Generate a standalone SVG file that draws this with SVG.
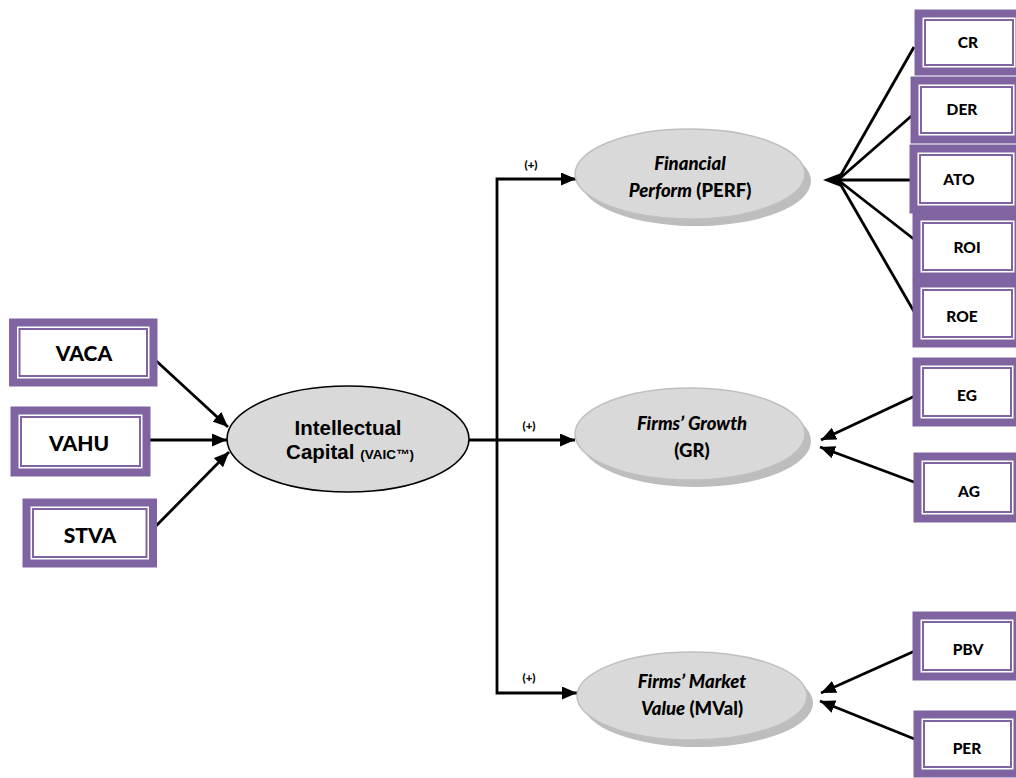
<svg xmlns="http://www.w3.org/2000/svg" width="1016" height="778" viewBox="0 0 1016 778">
<defs>
<marker id="ah" markerUnits="userSpaceOnUse" markerWidth="15" markerHeight="13" refX="15" refY="6.5" orient="auto-start-reverse" viewBox="0 0 15 13"><path d="M0,0 L15,6.5 L0,13 z" fill="#000"/></marker>
</defs>
<style>
.outer{fill:#8064a2}
.gap{fill:#fff}
.inner{fill:#fff;stroke:#8064a2;stroke-width:2}
.lbl{font-family:Lato,"Open Sans",sans-serif;font-weight:900;fill:#000;text-anchor:middle}
.big{font-size:21px}
.sm{font-size:15.5px}
.conn{stroke:#000;stroke-width:2.8;fill:none}
.ell{fill:#d9d9d9;stroke:#bfbfbf;stroke-width:1.5}
.shadow{fill:#bdbdbd}
.elt{font-family:Lato,"Open Sans",sans-serif;font-weight:900;font-size:18.5px;text-anchor:middle;fill:#000}
.it{font-style:italic}
.plus{font-family:Lato,"Open Sans",sans-serif;font-weight:900;font-size:11.5px;text-anchor:middle;fill:#000}
.ic{font-family:"Liberation Sans",Arial,sans-serif;font-weight:bold;font-size:20.5px;text-anchor:middle;fill:#000}
</style>
<rect width="1016" height="778" fill="#fff"/>

<g id="connectors">
<line class="conn" x1="152" y1="357" x2="228" y2="427" marker-end="url(#ah)"/>
<line class="conn" x1="148" y1="440" x2="227" y2="440" marker-end="url(#ah)"/>
<line class="conn" x1="154" y1="528" x2="229" y2="452" marker-end="url(#ah)"/>
<path class="conn" d="M576,179 H497 V693 H577" marker-start="url(#ah)" marker-end="url(#ah)"/>
<line class="conn" x1="469" y1="440" x2="575" y2="440" marker-end="url(#ah)"/>
<line class="conn" x1="914" y1="47" x2="838" y2="180"/>
<line class="conn" x1="916" y1="112" x2="838" y2="180"/>
<line class="conn" x1="915" y1="180" x2="838" y2="180"/>
<line class="conn" x1="915" y1="240" x2="838" y2="180"/>
<line class="conn" x1="916" y1="315" x2="838" y2="180"/>
<polygon points="823,180 840,173.5 840,186.5" fill="#000"/>
<line class="conn" x1="917" y1="395" x2="821" y2="440" marker-end="url(#ah)"/>
<line class="conn" x1="922" y1="485" x2="820" y2="447" marker-end="url(#ah)"/>
<line class="conn" x1="917" y1="650" x2="821" y2="693" marker-end="url(#ah)"/>
<line class="conn" x1="922" y1="742" x2="820" y2="701" marker-end="url(#ah)"/>
<text class="plus" x="531" y="169">(+)</text>
<text class="plus" x="529" y="430">(+)</text>
<text class="plus" x="529" y="682">(+)</text>
</g>

<g id="vaca"><rect class="outer" x="9" y="318.5" width="148.5" height="68"/><rect class="gap" x="17" y="326.5" width="132.5" height="52"/><rect class="inner" x="19.5" y="329" width="127.5" height="47"/><text class="lbl big" x="84" y="361">VACA</text></g>
<g id="vahu"><rect class="outer" x="10.5" y="406.5" width="140" height="70"/><rect class="gap" x="18.5" y="414.5" width="124" height="54"/><rect class="inner" x="21" y="417" width="119" height="49"/><text class="lbl big" x="79" y="451">VAHU</text></g>
<g id="stva"><rect class="outer" x="22.5" y="498.5" width="134.5" height="69"/><rect class="gap" x="30.5" y="506.5" width="118.5" height="53"/><rect class="inner" x="33" y="509" width="113.5" height="48"/><text class="lbl big" x="90" y="543">STVA</text></g>

<g id="cr"><rect class="outer" x="914.5" y="9.5" width="109" height="66"/><rect class="gap" x="922.5" y="17.5" width="93" height="50"/><rect class="inner" x="925" y="20" width="88" height="45"/><text class="lbl sm" x="968" y="48">CR</text></g>
<g id="der"><rect class="outer" x="910.5" y="76.5" width="112" height="67"/><rect class="gap" x="918.5" y="84.5" width="96" height="51"/><rect class="inner" x="921" y="87" width="91" height="46"/><text class="lbl sm" x="962" y="115">DER</text></g>
<g id="ato"><rect class="outer" x="909.5" y="144.5" width="113" height="69"/><rect class="gap" x="917.5" y="152.5" width="97" height="53"/><rect class="inner" x="920" y="155" width="92" height="48"/><text class="lbl sm" x="959" y="185">ATO</text></g>
<g id="roi"><rect class="outer" x="912.5" y="212.5" width="110" height="68"/><rect class="gap" x="920.5" y="220.5" width="94" height="52"/><rect class="inner" x="923" y="223" width="89" height="47"/><text class="lbl sm" x="967" y="253">ROI</text></g>
<g id="roe"><rect class="outer" x="912.5" y="279.5" width="110" height="68"/><rect class="gap" x="920.5" y="287.5" width="94" height="52"/><rect class="inner" x="923" y="290" width="89" height="47"/><text class="lbl sm" x="962" y="322">ROE</text></g>

<g id="eg"><rect class="outer" x="912.5" y="357.5" width="109" height="69"/><rect class="gap" x="920.5" y="365.5" width="93" height="53"/><rect class="inner" x="923" y="368" width="88" height="48"/><text class="lbl sm" x="967" y="401">EG</text></g>
<g id="ag"><rect class="outer" x="913.5" y="452.5" width="108" height="70"/><rect class="gap" x="921.5" y="460.5" width="92" height="54"/><rect class="inner" x="924" y="463" width="87" height="49"/><text class="lbl sm" x="969" y="497">AG</text></g>
<g id="pbv"><rect class="outer" x="912.5" y="611.5" width="109" height="69"/><rect class="gap" x="920.5" y="619.5" width="93" height="53"/><rect class="inner" x="923" y="622" width="88" height="48"/><text class="lbl sm" x="968" y="655">PBV</text></g>
<g id="per"><rect class="outer" x="913.5" y="710.5" width="108" height="67"/><rect class="gap" x="921.5" y="718.5" width="92" height="51"/><rect class="inner" x="924" y="721" width="87" height="46"/><text class="lbl sm" x="967" y="754">PER</text></g>

<g id="intellectual-capital"><ellipse cx="348" cy="439" rx="121" ry="53" fill="#d9d9d9" stroke="#000" stroke-width="1.6"/><text class="ic" x="348" y="435">Intellectual</text><text class="ic" x="350" y="459">Capital <tspan font-size="13.5">(VAIC™)</tspan></text></g>

<g id="financial-perform"><ellipse class="shadow" cx="696" cy="181" rx="115" ry="45"/><ellipse class="ell" cx="690" cy="174" rx="115" ry="45"/><text class="elt" x="690" y="170"><tspan class="it">Financial</tspan></text><text class="elt" x="690" y="197"><tspan class="it">Perform</tspan> (PERF)</text></g>

<g id="firms-growth"><ellipse class="shadow" cx="696" cy="441" rx="115" ry="46"/><ellipse class="ell" cx="690" cy="434" rx="115" ry="46"/><text class="elt" x="692" y="430"><tspan class="it">Firms’ Growth</tspan></text><text class="elt" x="692" y="457">(GR)</text></g>

<g id="firms-market-value"><ellipse class="shadow" cx="698" cy="703" rx="115" ry="44"/><ellipse class="ell" cx="692" cy="696" rx="115" ry="44"/><text class="elt" x="692" y="688"><tspan class="it">Firms’ Market</tspan></text><text class="elt" x="692" y="715"><tspan class="it">Value</tspan> (MVal)</text></g>
</svg>
